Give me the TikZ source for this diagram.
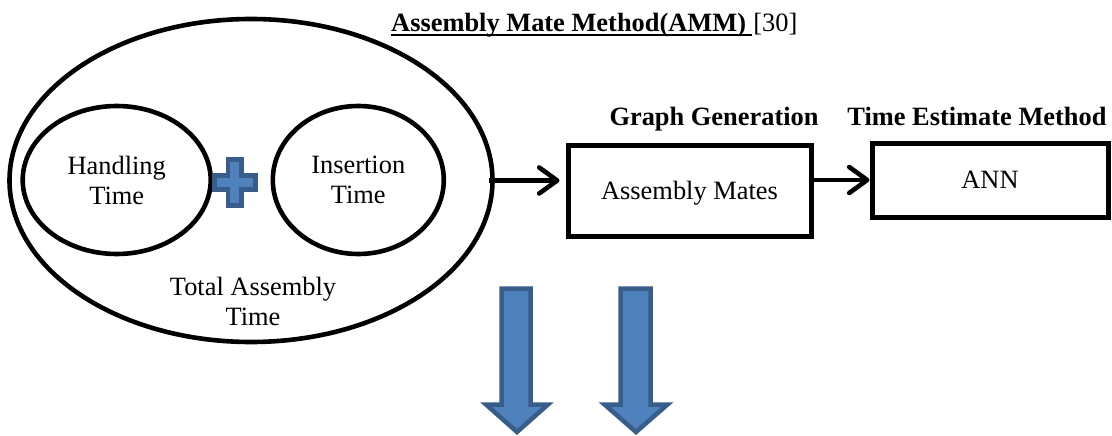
\documentclass[tikz,border=0pt]{standalone}
\usepackage{fontspec}
\setmainfont{Liberation Serif}
\usetikzlibrary{shapes.geometric,arrows.meta}
\definecolor{accent}{HTML}{4F81BD}
\definecolor{accentdark}{HTML}{385D8A}
\begin{document}
\begin{tikzpicture}[x=1pt,y=-1pt,
  font=\fontsize{26.4}{30}\selectfont,
  ring/.style={draw, line width=4.6pt, ellipse, inner sep=0pt, align=center},
  stage/.style={draw, line width=5pt, rectangle, inner sep=0pt, text depth=0pt},
  flow/.style={line width=4.6pt, -{Straight Barb[length=18pt,width=26pt,line cap=round,line join=round]}},
  txt/.style={inner sep=0pt, align=center},
  blockarrow/.style={fill=accent, draw=accentdark, line width=4.5pt, line join=miter}]
\useasboundingbox (0,0) rectangle (1112,436);

% title
\node[txt, anchor=base west] (ttl) at (391,32) {\textbf{Assembly Mate Method(AMM)}};
\node[txt, anchor=base west] (ref) at ([xshift=7pt]ttl.base east) {[30]};
\draw[line width=2.2pt] ([yshift=-3pt]ttl.base west) -- ([xshift=6pt,yshift=-3pt]ttl.base east);

% total assembly time
\node[ring, minimum width=483pt, minimum height=323pt] (total) at (251,180.5) {};
\node[ring, minimum width=188pt, minimum height=148pt] (handling) at (116.7,180) {Handling\\Time};
\node[ring, minimum width=171pt, minimum height=148pt] (insertion) at (358.3,180) {Insertion\\Time};
\node[txt] (totaltxt) at (253,301) {Total Assembly\\Time};

% plus sign
\draw[blockarrow] (228,159.5) -- (241.5,159.5) -- (241.5,175.5) -- (255.5,175.5) -- (255.5,189.5)
  -- (241.5,189.5) -- (241.5,205.5) -- (228,205.5) -- (228,189.5) -- (214.5,189.5) -- (214.5,175.5)
  -- (228,175.5) -- cycle;

% stages
\node[txt, anchor=base] (gg) at (714,125) {\textbf{Graph Generation}};
\node[txt, anchor=base] (tem) at (977,125) {\textbf{Time Estimate Method}};
\node[stage, minimum width=243pt, minimum height=91pt] (mates) at (689.5,190.5) {Assembly Mates};
\node[stage, minimum width=236pt, minimum height=74pt] (ann) at (990,180) {ANN};

\draw[flow] ([xshift=-6pt]total.east) -- ([xshift=-6pt]total.east -| mates.west);
\draw[flow] (ann.west -| mates.east) -- (ann.west);

% block arrows
\draw[blockarrow] (501.5,288.5) -- (530.5,288.5) -- (530.5,404.5) -- (548,404.5)
  -- (517,432) -- (486,404.5) -- (501.5,404.5) -- cycle;
\draw[blockarrow] (620.5,288.5) -- (650.5,288.5) -- (650.5,404.5) -- (667.5,404.5)
  -- (636,432) -- (604.5,404.5) -- (620.5,404.5) -- cycle;
\end{tikzpicture}
\end{document}
